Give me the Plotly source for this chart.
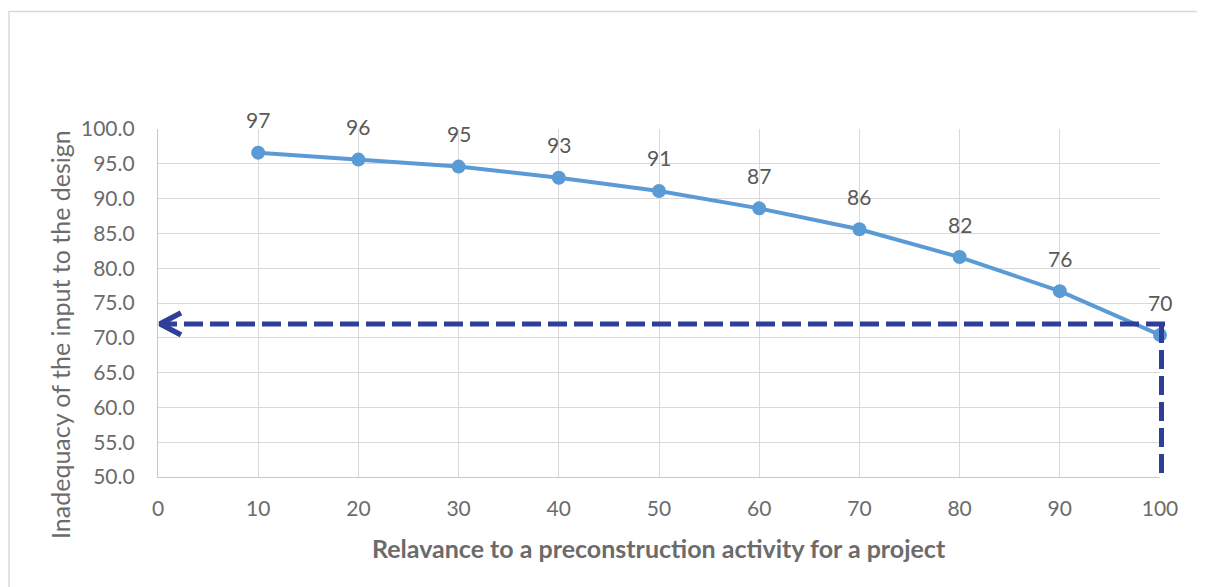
import plotly.graph_objects as go

# ---- data ----
relevance = [10, 20, 30, 40, 50, 60, 70, 80, 90, 100]
inadequacy = [96.6, 95.6, 94.6, 93.0, 91.1, 88.6, 85.6, 81.6, 76.7, 70.4]
point_labels = ["97", "96", "95", "93", "91", "87", "86", "82", "76", "70"]
x_ticks = [0, 10, 20, 30, 40, 50, 60, 70, 80, 90, 100]
y_ticks = [50, 55, 60, 65, 70, 75, 80, 85, 90, 95, 100]
y_tick_text = [f"{v:.1f}" for v in y_ticks]
threshold_y = 72.0
threshold_x = 100
x_title = "Relavance to a preconstruction activity for a project"
y_title = "Inadequacy of the input to the design"

# page has an 8px body margin; compensate so the chart sits where the reference is
OFF = 8
W, H = 1205 - OFF, 587 - OFF
# inner plot box (axes) in screen pixels
PX0, PX1, PY0, PY1 = 158, 1160, 129, 477
PAD = 10  # extra room around axes for unclipped guide lines
OX0, OX1, OY0, OY1 = PX0 - PAD, PX1 + PAD, PY0 - PAD, PY1 + PAD
L = OX0 - OFF
T = OY0 - OFF
R = W - L - (OX1 - OX0)
B = H - T - (OY1 - OY0)
ow, oh = OX1 - OX0, OY1 - OY0
pw, ph = PX1 - PX0, PY1 - PY0

def px_to_paper_x(px):
    return (px - OX0) / ow

def px_to_paper_y(py):
    return (OY1 - py) / oh

FONT = "Lato"
TICK_COLOR = "#6b6b6b"
LABEL_COLOR = "#595959"
LINE_BLUE = "#5B9BD5"
DARK_BLUE = "#2F3F99"

xr = [x_ticks[0], x_ticks[-1]]
yr = [y_ticks[0], y_ticks[-1]]
xu = (xr[1] - xr[0]) / pw
yu = (yr[1] - yr[0]) / ph
xr2 = [xr[0] - PAD * xu, xr[1] + PAD * xu]
yr2 = [yr[0] - PAD * yu, yr[1] + PAD * yu]

fig = go.Figure()

# main series
fig.add_trace(go.Scatter(
    x=relevance, y=inadequacy, mode="lines+markers",
    line=dict(color=LINE_BLUE, width=4),
    marker=dict(color=LINE_BLUE, size=14),
    showlegend=False, cliponaxis=False))

dash = "19px,7px"
# dashed guide lines on a slightly larger invisible subplot (not clipped at plot edge)
fig.add_trace(go.Scatter(
    x=[threshold_x + 0.5, x_ticks[0] + 0.3], y=[threshold_y, threshold_y],
    xaxis="x2", yaxis="y2",
    mode="lines", line=dict(color=DARK_BLUE, width=5, dash=dash),
    hoverinfo="skip", showlegend=False))
fig.add_trace(go.Scatter(
    x=[threshold_x + 0.15, threshold_x + 0.15], y=[threshold_y, y_ticks[0]],
    xaxis="x2", yaxis="y2",
    mode="lines", line=dict(color=DARK_BLUE, width=5, dash=dash),
    hoverinfo="skip", showlegend=False))

# open chevron arrow head
arm_dx = 23 * xu
arm_dy = 11 * yu
fig.add_trace(go.Scatter(
    x=[x_ticks[0] + arm_dx, x_ticks[0] + 0.2, x_ticks[0] + arm_dx],
    y=[threshold_y + arm_dy, threshold_y, threshold_y - arm_dy],
    xaxis="x2", yaxis="y2",
    mode="lines", line=dict(color=DARK_BLUE, width=5.5),
    hoverinfo="skip", showlegend=False))

# data labels
for xv, yv, t in zip(relevance, inadequacy, point_labels):
    fig.add_annotation(x=xv, y=yv, text=t, showarrow=False, yshift=33,
                       font=dict(family=FONT, size=21, color=LABEL_COLOR))

# axis titles
fig.add_annotation(xref="paper", yref="paper",
                   x=px_to_paper_x(60), y=px_to_paper_y(335),
                   xanchor="center", yanchor="middle",
                   text=y_title, textangle=-90, showarrow=False,
                   font=dict(family=FONT, size=25, color=TICK_COLOR))
fig.add_annotation(xref="paper", yref="paper",
                   x=px_to_paper_x(659), y=px_to_paper_y(548),
                   xanchor="center", yanchor="middle",
                   text="<b>" + x_title + "</b>", showarrow=False,
                   font=dict(family=FONT, size=25, color=TICK_COLOR))

# outer chart frame
fig.add_shape(type="rect", xref="paper", yref="paper",
              x0=px_to_paper_x(9), x1=px_to_paper_x(1400),
              y0=px_to_paper_y(800), y1=px_to_paper_y(11.5),
              line=dict(color="#d9d9d9", width=1.5), layer="below")

xd = [px_to_paper_x(PX0), px_to_paper_x(PX1)]
yd = [px_to_paper_y(PY1), px_to_paper_y(PY0)]

fig.update_layout(
    width=W, height=H, margin=dict(l=L, r=R, t=T, b=B, pad=0),
    plot_bgcolor="rgba(0,0,0,0)", paper_bgcolor="white",
    font=dict(family=FONT), showlegend=False,
    xaxis=dict(domain=xd, range=xr, tickvals=x_ticks,
               ticktext=[str(v) for v in x_ticks],
               showgrid=True, gridcolor="#d9d9d9", gridwidth=1.2,
               zeroline=False, showline=True, linecolor="#c8c8c8", linewidth=1.2,
               ticks="", ticklabelstandoff=13, anchor="y",
               tickfont=dict(family=FONT, size=21, color=TICK_COLOR)),
    yaxis=dict(domain=yd, range=yr, tickvals=y_ticks, ticktext=y_tick_text,
               showgrid=True, gridcolor="#d9d9d9", gridwidth=1.2,
               zeroline=False, showline=True, linecolor="#c8c8c8", linewidth=1.2,
               ticks="", ticklabelstandoff=18, anchor="x",
               tickfont=dict(family=FONT, size=21, color=TICK_COLOR)),
    xaxis2=dict(domain=[0, 1], range=xr2, visible=False, anchor="y2",
                fixedrange=True, showgrid=False, zeroline=False),
    yaxis2=dict(domain=[0, 1], range=yr2, visible=False, anchor="x2",
                fixedrange=True, showgrid=False, zeroline=False),
)

fig.write_html("out.html")
